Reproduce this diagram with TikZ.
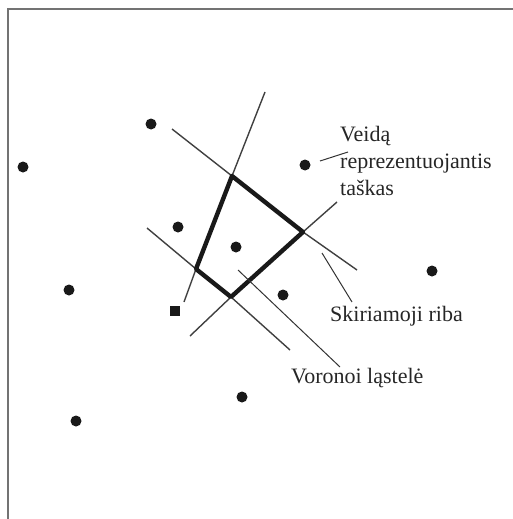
\documentclass[tikz,border=0pt]{standalone}
\usepackage{fontspec}
\setmainfont{Liberation Serif}
\usetikzlibrary{positioning}

\begin{document}
\begin{tikzpicture}[x=1pt,y=-1pt,
    site/.style={circle,fill=black!90,inner sep=0pt,minimum size=11pt},
    sqsite/.style={rectangle,fill=black!90,inner sep=0pt,minimum size=9.5pt},
    celledge/.style={line width=4.4pt,line cap=round,line join=round,black!90},
    bisector/.style={line width=1.4pt,black!75},
    leader/.style={line width=1pt,black!80},
    lbltext/.style={font=\fontsize{22}{27}\selectfont,inner sep=0pt,align=left,text=black!85}]
\useasboundingbox (0,0) rectangle (513,519);
\draw[black!55,line width=1.5pt] (8,519) -- (8,9) -- (513,9);

% taskai
\node[site] (p1) at (151,124) {};
\node[site] (p2) at (23,167) {};
\node[site] (p3) at (305,165) {};
\node[site] (p4) at (178,227) {};
\node[site] (p5) at (236,247) {};
\node[site] (p6) at (432,271) {};
\node[site] (p7) at (69,290) {};
\node[site] (p8) at (283,295) {};
\node[sqsite] (p9) at (175,311) {};
\node[site] (p10) at (242,397) {};
\node[site] (p11) at (76,421) {};

% Voronoi lastele
\coordinate (cA) at (232,176);
\coordinate (cB) at (303,232);
\coordinate (cC) at (231,297);
\coordinate (cD) at (196,269);
\coordinate (eA1) at (265,92);
\coordinate (eA2) at (172,129);
\coordinate (eB1) at (337,202);
\coordinate (eB2) at (357,270);
\coordinate (eC1) at (190,336);
\coordinate (eC2) at (290,350);
\coordinate (eD1) at (147,228);
\coordinate (eD2) at (184,302);

\draw[bisector] (eA1) -- (cA) -- (eA2);
\draw[bisector] (eB1) -- (cB) -- (eB2);
\draw[bisector] (eC1) -- (cC) -- (eC2);
\draw[bisector] (eD1) -- (cD) -- (eD2);
\draw[celledge] (cA) -- (cB) -- (cC) -- (cD) -- cycle;

% uzrasai
\node[lbltext,anchor=north west] (tVeid) at (340,126) {Veidą\\reprezentuojantis\\taškas};
\node[lbltext,anchor=base west] (tRiba) at (330,321) {Skiriamoji riba};
\node[lbltext,anchor=base west] (tVor) at (291,383) {Voronoi ląstelė};

\coordinate (lV1) at (320,161);
\coordinate (lV2) at (348,152);
\coordinate (lR1) at (322,253);
\coordinate (lR2) at (352,302);
\coordinate (lC1) at (238,270);
\coordinate (lC2) at (340,367);
\draw[leader] (lV1) -- (lV2);
\draw[leader] (lR1) -- (lR2);
\draw[leader] (lC1) -- (lC2);
\end{tikzpicture}
\end{document}
